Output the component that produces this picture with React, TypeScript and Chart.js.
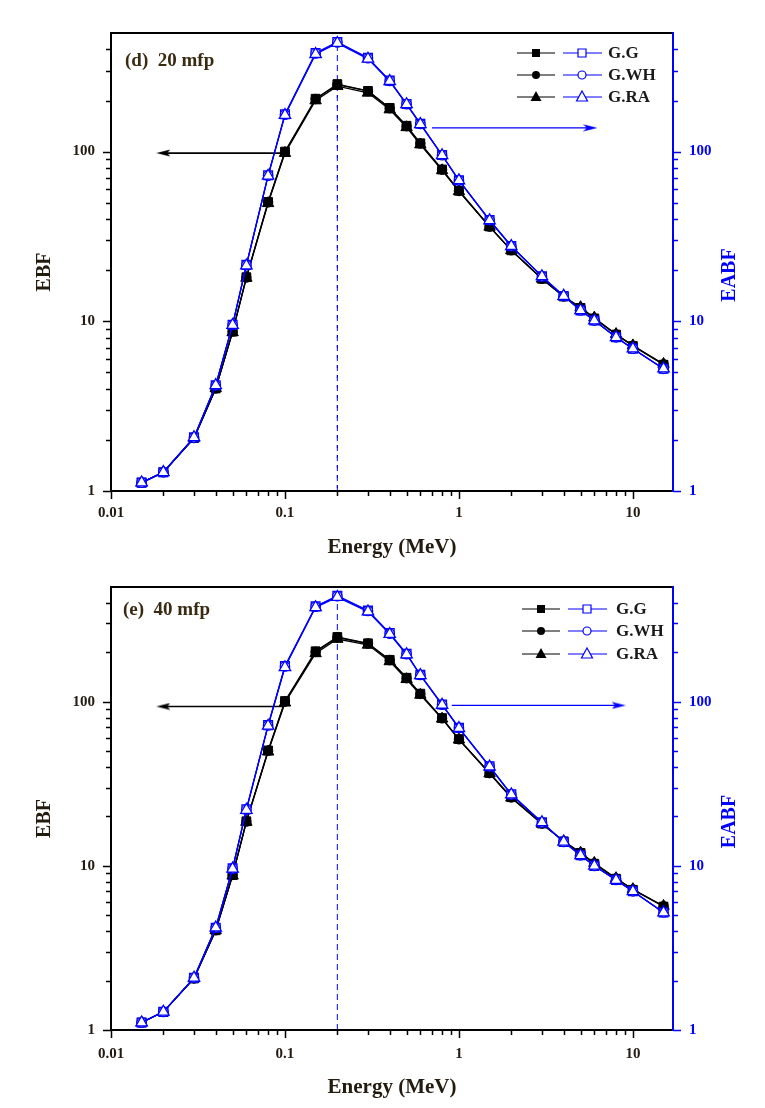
import React, { useEffect, useRef } from 'react';
import { Chart, registerables } from 'chart.js';

Chart.register(...registerables);

if (typeof document !== 'undefined') document.body.style.margin = '0';

// ---------- data ----------
const energy = [0.015, 0.02, 0.03, 0.04, 0.05, 0.06, 0.08, 0.1, 0.15, 0.2, 0.3, 0.4, 0.5, 0.6, 0.8, 1, 1.5, 2, 3, 4, 5, 6, 8, 10, 15];

// 20 mfp
const ebf20GG = [1.12, 1.29, 2.05, 4.02, 8.7, 18.2, 50.5, 100, 205, 250, 228, 181, 142, 112, 78.5, 58.8, 36.2, 26.2, 17.8, 14.0, 12.0, 10.4, 8.35, 7.15, 5.55];
const ebf20GWH = [1.12, 1.29, 2.05, 4.02, 8.7, 18.1, 50.2, 99.5, 204, 248, 227, 180, 141, 111.5, 78.2, 58.6, 36.1, 26.2, 17.8, 14.0, 12.0, 10.4, 8.38, 7.18, 5.58];
const ebf20GRA = [1.12, 1.29, 2.05, 4.03, 8.6, 18.0, 49.6, 98, 200, 243, 222, 177, 139, 110, 77.5, 58.3, 36.0, 26.2, 17.8, 14.0, 12.1, 10.5, 8.4, 7.2, 5.6];
const eabf20GG = [1.12, 1.29, 2.07, 4.2, 9.55, 21.5, 72.5, 166, 381, 443, 357, 262, 191, 146, 95.5, 67.8, 39.5, 27.8, 18.4, 14.1, 11.6, 10.1, 8.05, 6.9, 5.25];
const eabf20GWH = [1.12, 1.29, 2.07, 4.2, 9.52, 21.4, 72.2, 165, 379, 440, 355, 261, 190.5, 145.5, 95.2, 67.7, 39.4, 27.7, 18.4, 14.1, 11.6, 10.1, 8.05, 6.9, 5.25];
const eabf20GRA = [1.12, 1.29, 2.07, 4.2, 9.5, 21.3, 72, 164, 375, 436, 352, 260, 190, 145, 95, 67.6, 39.3, 27.7, 18.4, 14.1, 11.6, 10.1, 8.05, 6.9, 5.26];

// 40 mfp
const ebf40GG = [1.11, 1.29, 2.06, 4.05, 8.8, 18.7, 50.5, 101, 203, 248, 227, 180, 140, 112, 79.5, 59.2, 36.8, 26.2, 18.1, 14.1, 12.0, 10.3, 8.35, 7.15, 5.65];
const ebf40GWH = [1.11, 1.29, 2.06, 4.05, 8.8, 18.6, 50.2, 100, 201, 246, 226, 179, 139, 111.5, 79.2, 59.0, 36.7, 26.1, 18.1, 14.1, 12.0, 10.35, 8.38, 7.18, 5.67];
const ebf40GRA = [1.11, 1.29, 2.06, 4.05, 8.7, 18.5, 49.6, 98.6, 197, 241, 222, 176, 137, 110, 78.7, 58.7, 36.5, 26.0, 18.0, 14.1, 12.0, 10.4, 8.4, 7.2, 5.69];
const eabf40GG = [1.11, 1.29, 2.08, 4.2, 9.65, 22.1, 72, 165, 381, 442, 359, 262, 196, 146, 96.2, 69.4, 40.4, 27.3, 18.4, 14.0, 11.6, 10.0, 8.2, 7.0, 5.2];
const eabf40GWH = [1.11, 1.29, 2.08, 4.2, 9.62, 22.0, 71.7, 164, 379, 439, 357, 260, 195, 145.5, 96, 69.2, 40.3, 27.2, 18.4, 14.0, 11.6, 10.0, 8.2, 7.0, 5.2];
const eabf40GRA = [1.11, 1.29, 2.08, 4.2, 9.6, 21.9, 71.3, 162, 376, 434, 354, 258, 194, 145, 95.6, 69, 40.2, 27.2, 18.4, 14.0, 11.6, 10.0, 8.2, 7.0, 5.2];

// tick values
const xMajorTicks = [0.01, 0.1, 1, 10];
const xMinorTicks = [0.02, 0.03, 0.04, 0.05, 0.06, 0.07, 0.08, 0.09, 0.2, 0.3, 0.4, 0.5, 0.6, 0.7, 0.8, 0.9, 2, 3, 4, 5, 6, 7, 8, 9];
const yMajorTicks = [1, 10, 100];
const yMinorTicks = [2, 3, 4, 5, 6, 7, 8, 9, 20, 30, 40, 50, 60, 70, 80, 90, 200, 300, 400];
const xRange = [0.01, 17];
const yRange = [1, 500];

const seriesNames = ['G.G', 'G.WH', 'G.RA'];

// peak marker lines & arrows
const peakEnergy = 0.2;

const BLUE = '#0000ff';
const BLACK = '#000000';
const TXT = '#231a10';
const FONT = '"Liberation Serif", "Times New Roman", serif';

function makeArrowHead(color: string) {
  const c = document.createElement('canvas');
  c.width = 14;
  c.height = 8;
  const g = c.getContext('2d')!;
  g.fillStyle = color;
  g.beginPath();
  g.moveTo(0, 0.5);
  g.lineTo(14, 4);
  g.lineTo(0, 7.5);
  g.lineTo(3, 4);
  g.closePath();
  g.fill();
  return c;
}

type PanelProps = {
  height: number;
  padTop: number;
  plotBottom: number;
  xTickPad: number;
  xTitleY: number;
  label: string;
  labelX: number;
  labelDy: number;
  legendX: number;
  legendRows: number[];
  legendTextDx: number;
  ebf: number[][];
  eabf: number[][];
  blackArrow: { x: number[]; y: number };
  blueArrow: { x: number[]; y: number };
  blackPeakLine: boolean;
};

function drawMarker(ctx: CanvasRenderingContext2D, kind: number, x: number, y: number, filled: boolean, color: string) {
  ctx.save();
  ctx.beginPath();
  if (kind === 0) {
    ctx.rect(x - 4, y - 4, 8, 8);
  } else if (kind === 1) {
    ctx.arc(x, y, 4, 0, Math.PI * 2);
  } else {
    ctx.moveTo(x, y - 6);
    ctx.lineTo(x + 5.5, y + 4);
    ctx.lineTo(x - 5.5, y + 4);
    ctx.closePath();
  }
  if (filled) {
    ctx.fillStyle = color;
    ctx.fill();
  } else {
    ctx.fillStyle = '#fff';
    ctx.fill();
    ctx.lineWidth = 1.2;
    ctx.strokeStyle = color;
    ctx.stroke();
  }
  ctx.restore();
}

function Panel(p: PanelProps) {
  const ref = useRef<HTMLCanvasElement>(null);
  useEffect(() => {
    const canvas = ref.current!;
    const blackHead = makeArrowHead(BLACK);
    const blueHead = makeArrowHead(BLUE);
    const styles = ['rect', 'circle', 'triangle'];
    const radii = [6.2, 4.7, 6.6];

    const datasets: any[] = [];
    // blue (EABF) on top
    [2, 1, 0].forEach((k, i) => {
      datasets.push({
        label: 'EABF ' + seriesNames[k],
        data: energy.map((e, j) => ({ x: e, y: p.eabf[k][j] })),
        yAxisID: 'y2',
        borderColor: BLUE,
        borderWidth: 1.25,
        pointStyle: styles[k],
        pointRadius: radii[k],
        pointBackgroundColor: '#ffffff',
        pointBorderColor: BLUE,
        pointBorderWidth: 1.3,
        order: i,
      });
    });
    [2, 1, 0].forEach((k, i) => {
      datasets.push({
        label: 'EBF ' + seriesNames[k],
        data: energy.map((e, j) => ({ x: e, y: p.ebf[k][j] })),
        yAxisID: 'y',
        borderColor: BLACK,
        borderWidth: 1.25,
        pointStyle: styles[k],
        pointRadius: radii[k],
        pointBackgroundColor: BLACK,
        pointBorderColor: BLACK,
        pointBorderWidth: 1,
        order: 3 + i,
      });
    });
    // peak dashed lines
    const bluePeak = Math.max(...p.eabf[2]);
    const blackPeak = Math.max(...p.ebf[2]);
    datasets.push({
      label: 'peak-blue',
      data: [{ x: peakEnergy, y: 1 }, { x: peakEnergy, y: bluePeak }],
      yAxisID: 'y2',
      borderColor: BLUE,
      borderWidth: 1,
      borderDash: [6, 4],
      pointRadius: 0,
      order: 8,
    });
    if (p.blackPeakLine) {
      datasets.push({
        label: 'peak-black',
        data: [{ x: peakEnergy, y: 1 }, { x: peakEnergy, y: blackPeak }],
        yAxisID: 'y',
        borderColor: BLACK,
        borderWidth: 1,
        borderDash: [3, 7],
        borderDashOffset: 7,
        pointRadius: 0,
        order: 9,
      });
    }
    // arrows
    datasets.push({
      label: 'arrow-ebf',
      data: [{ x: p.blackArrow.x[0], y: p.blackArrow.y }, { x: p.blackArrow.x[1], y: p.blackArrow.y }],
      yAxisID: 'y',
      borderColor: BLACK,
      borderWidth: 1.6,
      pointRadius: [0, 7],
      pointStyle: ['circle', blackHead],
      pointRotation: [0, 180],
      order: 10,
    });
    datasets.push({
      label: 'arrow-eabf',
      data: [{ x: p.blueArrow.x[0], y: p.blueArrow.y }, { x: p.blueArrow.x[1], y: p.blueArrow.y }],
      yAxisID: 'y2',
      borderColor: BLUE,
      borderWidth: 1.3,
      pointRadius: [0, 7],
      pointStyle: ['circle', blueHead],
      pointRotation: [0, 0],
      order: 10,
    });

    const decorPlugin = {
      id: 'decor',
      afterDraw(chart: any) {
        const ctx: CanvasRenderingContext2D = chart.ctx;
        const a = chart.chartArea;
        const sx = chart.scales.x;
        const sy = chart.scales.y;
        ctx.save();
        // frame
        ctx.lineCap = 'butt';
        ctx.lineWidth = 2;
        ctx.strokeStyle = BLACK;
        ctx.beginPath();
        ctx.moveTo(a.left, a.top);
        ctx.lineTo(a.right, a.top);
        ctx.moveTo(a.left, a.top - 1);
        ctx.lineTo(a.left, a.bottom + 1);
        ctx.moveTo(a.left - 1, a.bottom);
        ctx.lineTo(a.right, a.bottom);
        ctx.stroke();
        ctx.strokeStyle = BLUE;
        ctx.beginPath();
        ctx.moveTo(a.right, a.top - 1);
        ctx.lineTo(a.right, a.bottom + 1);
        ctx.stroke();
        // ticks
        ctx.lineWidth = 1.5;
        ctx.strokeStyle = BLACK;
        ctx.beginPath();
        xMajorTicks.forEach((v) => {
          const px = Math.round(sx.getPixelForValue(v)) + 0.5;
          ctx.moveTo(px, a.bottom);
          ctx.lineTo(px, a.bottom + 8);
        });
        xMinorTicks.forEach((v) => {
          const px = Math.round(sx.getPixelForValue(v)) + 0.5;
          ctx.moveTo(px, a.bottom);
          ctx.lineTo(px, a.bottom + 5);
        });
        yMajorTicks.forEach((v) => {
          const py = Math.round(sy.getPixelForValue(v)) + 0.5;
          ctx.moveTo(a.left, py);
          ctx.lineTo(a.left - 8, py);
        });
        yMinorTicks.forEach((v) => {
          const py = Math.round(sy.getPixelForValue(v)) + 0.5;
          ctx.moveTo(a.left, py);
          ctx.lineTo(a.left - 5, py);
        });
        ctx.stroke();
        const sy2 = chart.scales.y2;
        ctx.strokeStyle = BLUE;
        ctx.beginPath();
        yMajorTicks.forEach((v) => {
          const py = Math.round(sy2.getPixelForValue(v)) + 0.5;
          ctx.moveTo(a.right, py);
          ctx.lineTo(a.right + 8, py);
        });
        yMinorTicks.forEach((v) => {
          const py = Math.round(sy2.getPixelForValue(v)) + 0.5;
          ctx.moveTo(a.right, py);
          ctx.lineTo(a.right + 5, py);
        });
        ctx.stroke();

        // axis titles
        const cy = (a.top + a.bottom) / 2;
        ctx.font = `bold 21px ${FONT}`;
        ctx.textAlign = 'center';
        ctx.textBaseline = 'middle';
        ctx.fillStyle = TXT;
        ctx.fillText('Energy (MeV)', (a.left + a.right) / 2, p.xTitleY);
        ctx.font = `bold 20px ${FONT}`;
        ctx.save();
        ctx.translate(45, cy + 10);
        ctx.rotate(-Math.PI / 2);
        ctx.fillText('EBF', 0, 0);
        ctx.restore();
        ctx.save();
        ctx.translate(730, cy + 13);
        ctx.rotate(-Math.PI / 2);
        ctx.fillStyle = BLUE;
        ctx.fillText('EABF', 0, 0);
        ctx.restore();

        // panel label
        ctx.font = `bold 19px ${FONT}`;
        ctx.textAlign = 'left';
        ctx.fillStyle = '#3a2a12';
        ctx.fillText(p.label, p.labelX, a.top + p.labelDy);

        // legend
        ctx.font = `bold 17px ${FONT}`;
        p.legendRows.forEach((dy, k) => {
          const y = a.top + dy;
          const bx = p.legendX;
          ctx.lineWidth = 1.2;
          ctx.strokeStyle = BLACK;
          ctx.beginPath();
          ctx.moveTo(bx, y);
          ctx.lineTo(bx + 38, y);
          ctx.stroke();
          drawMarker(ctx, k, bx + 19, y, true, BLACK);
          ctx.strokeStyle = BLUE;
          ctx.beginPath();
          ctx.moveTo(bx + 46, y);
          ctx.lineTo(bx + 85, y);
          ctx.stroke();
          drawMarker(ctx, k, bx + 65, y, false, BLUE);
          ctx.fillStyle = '#1a1a1a';
          ctx.textAlign = 'left';
          ctx.fillText(seriesNames[k], bx + p.legendTextDx, y + 1);
        });
        ctx.restore();
      },
    };

    const tickFont = { family: FONT, size: 15, weight: 'bold' as const };
    const chart = new Chart(canvas, {
      type: 'line',
      data: { datasets },
      options: {
        animation: false,
        responsive: false,
        devicePixelRatio: 1,
        events: [],
        layout: { padding: { top: p.padTop, left: 0, right: 0, bottom: 0 } },
        plugins: { legend: { display: false }, tooltip: { enabled: false }, title: { display: false } },
        scales: {
          x: {
            type: 'logarithmic',
            min: xRange[0],
            max: xRange[1],
            position: 'bottom',
            grid: { display: false, drawTicks: false, tickLength: 0 },
            border: { display: false },
            afterBuildTicks: (s: any) => {
              s.ticks = xMajorTicks.map((v) => ({ value: v }));
            },
            afterFit: (s: any) => {
              s.height = p.height - p.plotBottom;
            },
            ticks: {
              autoSkip: false,
              maxRotation: 0,
              padding: p.xTickPad,
              color: TXT,
              font: tickFont,
              callback: (v: any) => String(v),
            },
          },
          y: {
            type: 'logarithmic',
            min: yRange[0],
            max: yRange[1],
            position: 'left',
            grid: { display: false, drawTicks: false, tickLength: 0 },
            border: { display: false },
            afterBuildTicks: (s: any) => {
              s.ticks = yMajorTicks.map((v) => ({ value: v }));
            },
            afterFit: (s: any) => {
              s.width = 111;
            },
            ticks: { padding: 16, color: TXT, font: tickFont, callback: (v: any) => String(v) },
          },
          y2: {
            type: 'logarithmic',
            min: yRange[0],
            max: yRange[1],
            position: 'right',
            grid: { display: false, drawTicks: false, tickLength: 0 },
            border: { display: false },
            afterBuildTicks: (s: any) => {
              s.ticks = yMajorTicks.map((v) => ({ value: v }));
            },
            afterFit: (s: any) => {
              s.width = 92;
            },
            ticks: { padding: 16, color: BLUE, font: tickFont, callback: (v: any) => String(v) },
          },
        },
      },
      plugins: [decorPlugin],
    } as any);
    return () => chart.destroy();
  }, []);
  return <canvas ref={ref} width={765} height={p.height} style={{ display: 'block', width: 765, height: p.height }} />;
}

export default function App() {
  return (
    <div style={{ width: 765, background: '#fff' }}>
      <Panel
        height={562}
        padTop={33}
        plotBottom={491}
        xTickPad={13}
        xTitleY={548}
        label="(d)  20 mfp"
        labelX={125}
        labelDy={28}
        legendX={517}
        legendRows={[20, 42, 64]}
        legendTextDx={91}
        ebf={[ebf20GG, ebf20GWH, ebf20GRA]}
        eabf={[eabf20GG, eabf20GWH, eabf20GRA]}
        blackArrow={{ x: [0.096, 0.02], y: 98 }}
        blueArrow={{ x: [0.7, 5.7], y: 138 }}
        blackPeakLine={true}
      />
      <Panel
        height={546}
        padTop={10}
        plotBottom={468}
        xTickPad={15}
        xTitleY={526}
        label="(e)  40 mfp"
        labelX={123}
        labelDy={23}
        legendX={522}
        legendRows={[22, 44, 67]}
        legendTextDx={94}
        ebf={[ebf40GG, ebf40GWH, ebf40GRA]}
        eabf={[eabf40GG, eabf40GWH, eabf40GRA]}
        blackArrow={{ x: [0.098, 0.02], y: 93.5 }}
        blueArrow={{ x: [0.91, 8.3], y: 95 }}
        blackPeakLine={false}
      />
    </div>
  );
}
